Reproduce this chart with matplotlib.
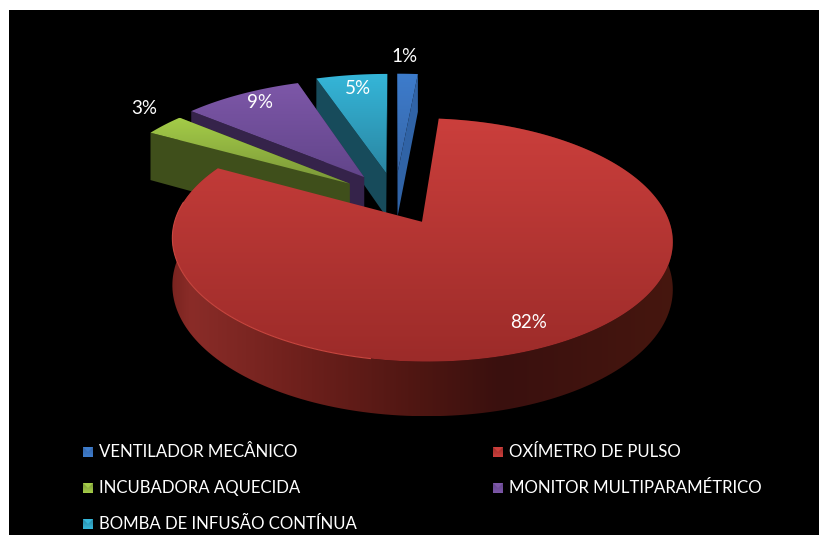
import numpy as np
import matplotlib
matplotlib.use('Agg')
import matplotlib.pyplot as plt
from matplotlib.colors import LinearSegmentedColormap
from matplotlib.patches import Polygon

names = ['VENTILADOR MECÂNICO', 'OXÍMETRO DE PULSO', 'INCUBADORA AQUECIDA',
         'MONITOR MULTIPARAMÉTRICO', 'BOMBA DE INFUSÃO CONTÍNUA']
# printed labels are rounded, the sweep of each slice reads a little different
values = [1.5, 81.5, 3, 8.8, 5.2]
labels = ['1%', '82%', '3%', '9%', '5%']
top_light = ['#3d7ccc', '#cb3f3c', '#a4cc48', '#7d57a8', '#35b6d9']
top_dark = ['#3766a8', '#9c2b29', '#7a9638', '#62458a', '#2a86a2']
wall_col = ['#3063a6', '#5a1a16', '#3f4f1b', '#35234a', '#174b5b']
label_pos = [(405, 57), (529, 322), (144, 109), (260, 102), (358, 88)]
legend_pos = [(88, 452), (498, 452), (88, 488), (498, 488), (88, 524)]

red_wall_x = [172, 190, 300, 420, 500, 690]
red_wall_c = ['#7a2420', '#8a2c28', '#6e201c', '#4e1612', '#3a100e', '#47170f']

# pie geometry, in pixels
cx, cy = 395, 198
rx, ry = 240, 112
depth = 45
persp = 0.145
explode = 0.233
radius = [1.09, 1.0, 1.05, 1.07, 1.09]
depth_k = [1.0, 1.0, 1.15, 1.0, 1.0]

plt.rcParams['font.family'] = ['Lato', 'DejaVu Sans']


def project(u, v, z=0.0):
    f = 1 / (1 + persp * v)
    return cx + rx * u * f, cy - (ry * v - depth * z) * f


def gradient_fill(ax, pts, colors, vertical=True, stops=None, zorder=2):
    pts = np.array(pts)
    x0, x1 = pts[:, 0].min(), pts[:, 0].max()
    y0, y1 = pts[:, 1].min(), pts[:, 1].max()
    if stops is None:
        cmap = LinearSegmentedColormap.from_list('g', colors)
    else:
        s = [(p - stops[0]) / (stops[-1] - stops[0]) for p in stops]
        cmap = LinearSegmentedColormap.from_list('g', list(zip(s, colors)))
    ramp = np.linspace(0, 1, 256)
    if vertical:
        img = ramp.reshape(-1, 1)
        extent = (x0, x1, y1, y0)
    else:
        # ramp runs over the stops range, so cut it to the polygon's width
        lo, hi = (x0, x1) if stops is None else (stops[0], stops[-1])
        img = ramp.reshape(1, -1)
        extent = (lo, hi, y1, y0)
    im = ax.imshow(img, cmap=cmap, extent=extent, aspect='auto', zorder=zorder,
                   origin='upper', interpolation='bilinear')
    patch = Polygon(pts, closed=True, transform=ax.transData, fc='none', ec='none')
    ax.add_patch(patch)
    im.set_clip_path(patch)


fig = plt.figure(figsize=(8.2, 5.35), dpi=100, facecolor='white')
ax = fig.add_axes([9 / 820, 0, 811 / 820, 525 / 535])
ax.set_facecolor('black')

# slice angles, clockwise from the top
total = sum(values)
angles = [90.0]
for val in values:
    angles.append(angles[-1] - val / total * 360)

# back to front
z = 2
for i in [0, 4, 3, 2, 1]:
    a1, a2 = angles[i], angles[i + 1]
    mid = np.radians((a1 + a2) / 2)
    du, dv = explode * np.cos(mid), explode * np.sin(mid)
    th = np.radians(np.linspace(a1, a2, 200))
    u = du + radius[i] * np.cos(th)
    v = dv + radius[i] * np.sin(th)
    tx, ty = project(u, v)
    bx, by = project(u, v, depth_k[i])
    ax_, ay_ = project(du, dv)
    abx, aby = project(du, dv, depth_k[i])

    if i == 1:
        wall = list(zip(tx, ty)) + list(zip(bx[::-1], by[::-1]))
        gradient_fill(ax, wall, red_wall_c, vertical=False, stops=red_wall_x, zorder=z)
    else:
        # radial side faces
        face_a = [(tx[0], ty[0]), (bx[0], by[0]), (abx, aby), (ax_, ay_)]
        face_b = [(tx[-1], ty[-1]), (bx[-1], by[-1]), (abx, aby), (ax_, ay_)]
        ax.add_patch(Polygon(face_a, closed=True, fc=wall_col[i], ec='none', zorder=z))
        ax.add_patch(Polygon(face_b, closed=True, fc=wall_col[i], ec='none', zorder=z))
    z += 1
    top = [(ax_, ay_)] + list(zip(tx, ty))
    gradient_fill(ax, top, [top_light[i], top_dark[i]], zorder=z)
    z += 1
    if i == 1:
        # lighter rim on the front left of the red slice
        rim = (np.degrees(th) < -100) & (np.degrees(th) > -190)
        ax.plot(tx[rim], ty[rim], color='#c8463f', lw=0.8, zorder=z)
        z += 1

for lab, (x, y) in zip(labels, label_pos):
    ax.text(x, y, lab, color='white', fontsize=13.5, ha='center', va='center', zorder=30)

for i, (name, (x, y)) in enumerate(zip(names, legend_pos)):
    s = 5
    square = [(x - s, y - s), (x + s, y - s), (x + s, y + s), (x - s, y + s)]
    gradient_fill(ax, square, [top_dark[i], top_light[i]], zorder=20)
    bevel = [(x - s, y - s), (x + s, y - s), (x, y)]
    ax.add_patch(Polygon(bevel, closed=True, fc=top_light[i], ec='none', zorder=21))
    ax.text(x + 11, y, name, color='white', fontsize=12.1, ha='left', va='center', zorder=30)

ax.set_xlim(9, 820)
ax.set_ylim(535, 10)
ax.set_xticks([])
ax.set_yticks([])
for side in ax.spines.values():
    side.set_visible(False)

fig.savefig('out.png', dpi=100, facecolor='white')
